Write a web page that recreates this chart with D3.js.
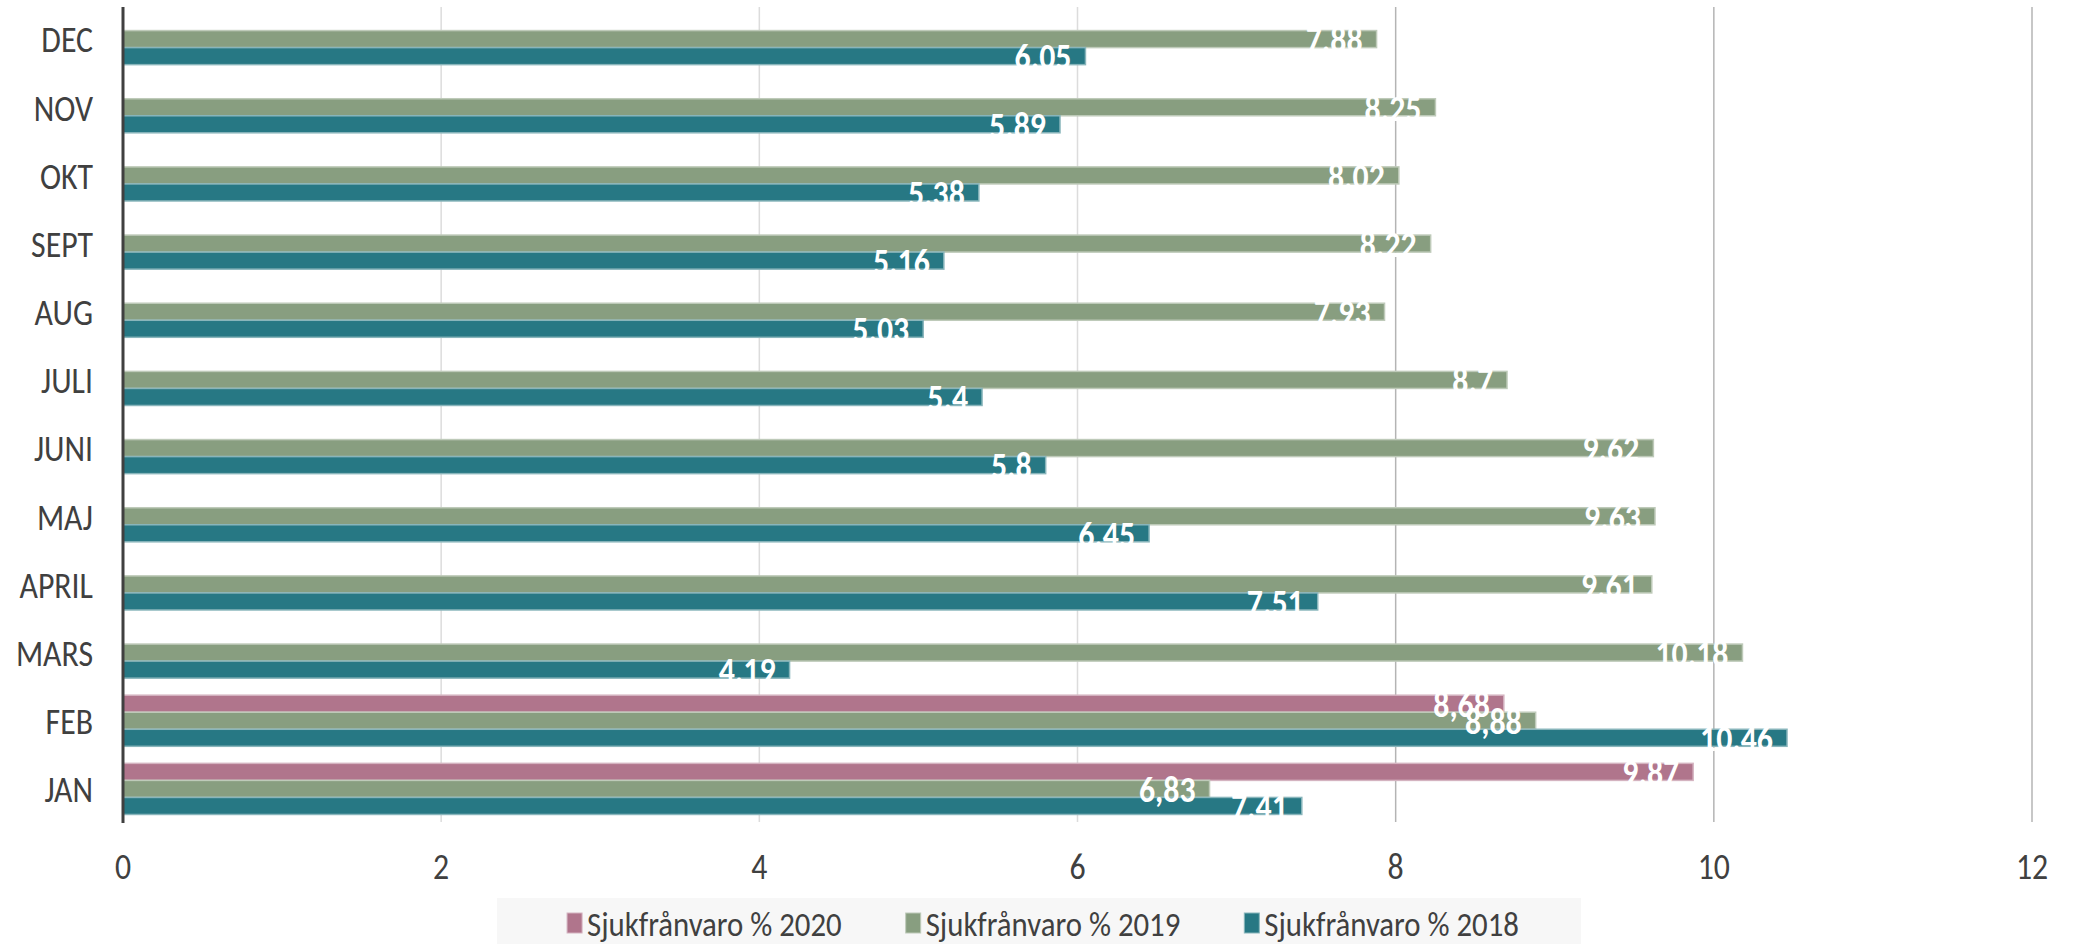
<!DOCTYPE html>
<html>
<head>
<meta charset="utf-8">
<script src="https://cdn.jsdelivr.net/npm/d3@7/dist/d3.min.js"></script>
<style>
  html, body { margin: 0; padding: 0; background: #fff; }
  svg { display: block; font-family: Carlito, 'Liberation Sans Narrow', 'Open Sans', sans-serif; }
</style>
</head>
<body>
<div id="chart"></div>
<script>
// months, top to bottom as in the chart
const months = ['DEC', 'NOV', 'OKT', 'SEPT', 'AUG', 'JULI', 'JUNI', 'MAJ', 'APRIL', 'MARS', 'FEB', 'JAN'];
const seriesNames = ['Sjukfrånvaro % 2020', 'Sjukfrånvaro % 2019', 'Sjukfrånvaro % 2018'];
const seriesColors = ['#b0758c', '#889e80', '#277884'];

// values per month, same order as months (null = no bar)
const values2020 = [null, null, null, null, null, null, null, null, null, null, 8.68, 9.87];
const values2019 = [7.88, 8.25, 8.02, 8.22, 7.93, 8.7, 9.62, 9.63, 9.61, 10.18, 8.88, 6.83];
const values2018 = [6.05, 5.89, 5.38, 5.16, 5.03, 5.4, 5.8, 6.45, 7.51, 4.19, 10.46, 7.41];

// data labels as printed in the chart
const labels2020 = [null, null, null, null, null, null, null, null, null, null, '8,68', '9.87'];
const labels2019 = ['7.88', '8.25', '8.02', '8.22', '7.93', '8.7', '9.62', '9.63', '9.61', '10.18', '8,88', '6,83'];
const labels2018 = ['6.05', '5.89', '5.38', '5.16', '5.03', '5.4', '5.8', '6.45', '7.51', '4.19', '10.46', '7.41'];

const xTicks = [0, 2, 4, 6, 8, 10, 12];

const width = 2073;
const height = 944;
const fontSize = 37;
const squeeze = 0.86; // text in the picture is drawn tall and narrow

const svg = d3.select('#chart').append('svg')
  .attr('width', width)
  .attr('height', height);

const x = d3.scaleLinear().domain([0, 12]).range([123, 2032]);
const y = d3.scaleBand().domain(months).range([5, 823]).paddingInner(0.25).paddingOuter(0.125);
const ySub = d3.scaleBand().domain(seriesNames).range([0, y.bandwidth()]);

const allValues = [values2020, values2019, values2018];
const allLabels = [labels2020, labels2019, labels2018];

const rows = [];
seriesNames.forEach((s, si) => {
  months.forEach((m, mi) => {
    if (allValues[si][mi] != null) {
      rows.push({ month: m, series: s, value: allValues[si][mi], label: allLabels[si][mi], color: seriesColors[si] });
    }
  });
});

const place = (fx, fy) => (d, i) => `translate(${fx(d, i)},${fy(d, i)}) scale(${squeeze},1)`;

// gridlines
svg.append('g')
  .selectAll('line')
  .data(xTicks.filter(t => t > 0))
  .join('line')
  .attr('x1', d => x(d)).attr('x2', d => x(d))
  .attr('y1', 7).attr('y2', 822)
  .attr('stroke', d => d >= 8 ? '#b4b4b4' : '#dcdcdc')
  .attr('stroke-width', 1.5);

// bars
svg.append('g')
  .selectAll('rect')
  .data(rows)
  .join('rect')
  .attr('x', x(0))
  .attr('y', d => y(d.month) + ySub(d.series))
  .attr('width', d => x(d.value) - x(0))
  .attr('height', ySub.bandwidth())
  .attr('fill', d => d.color)
  .attr('stroke', d => d3.interpolateRgb(d.color, '#ffffff')(0.45))
  .attr('stroke-width', 1.5);

// data labels
svg.append('g')
  .selectAll('text')
  .data(rows)
  .join('text')
  .attr('transform', place(d => x(d.value) - 14, d => y(d.month) + ySub(d.series) + ySub.bandwidth() / 2))
  .attr('dy', '0.36em')
  .attr('text-anchor', 'end')
  .attr('fill', '#ffffff')
  .style('font-size', fontSize + 'px')
  .style('font-weight', 'bold')
  .text(d => d.label);

// y axis line
svg.append('line')
  .attr('x1', x(0)).attr('x2', x(0))
  .attr('y1', 7).attr('y2', 823)
  .attr('stroke', '#404040')
  .attr('stroke-width', 3);

// category labels
svg.append('g')
  .selectAll('text')
  .data(months)
  .join('text')
  .attr('transform', place(() => 93, d => y(d) + y.bandwidth() / 2))
  .attr('dy', '0.36em')
  .attr('text-anchor', 'end')
  .attr('fill', '#404040')
  .style('font-size', fontSize + 'px')
  .text(d => d);

// x tick labels
svg.append('g')
  .selectAll('text')
  .data(xTicks)
  .join('text')
  .attr('transform', place(d => x(d), () => 866))
  .attr('dy', '0.36em')
  .attr('text-anchor', 'middle')
  .attr('fill', '#404040')
  .style('font-size', fontSize + 'px')
  .text(d => d);

// legend
svg.append('rect')
  .attr('x', 497).attr('y', 898)
  .attr('width', 1084).attr('height', 50)
  .attr('fill', '#f7f7f7');

const legend = svg.append('g');
const items = legend.selectAll('g')
  .data(seriesNames)
  .join('g');

items.append('rect')
  .attr('x', 0).attr('y', -10)
  .attr('width', 15).attr('height', 20)
  .attr('fill', (d, i) => seriesColors[i])
  .attr('stroke', (d, i) => d3.interpolateRgb(seriesColors[i], '#ffffff')(0.45))
  .attr('stroke-width', 1);

items.append('text')
  .attr('transform', `translate(20,0) scale(0.88,1)`)
  .attr('dy', '0.36em')
  .attr('fill', '#404040')
  .style('font-size', '35px')
  .text(d => d);

let cursor = 0;
items.each(function () {
  const w = this.getBBox().width;
  d3.select(this).attr('transform', `translate(${cursor},923)`);
  cursor += w + 64;
});
const total = cursor - 64;
legend.attr('transform', `translate(${1043 - total / 2},0)`);
</script>
</body>
</html>
